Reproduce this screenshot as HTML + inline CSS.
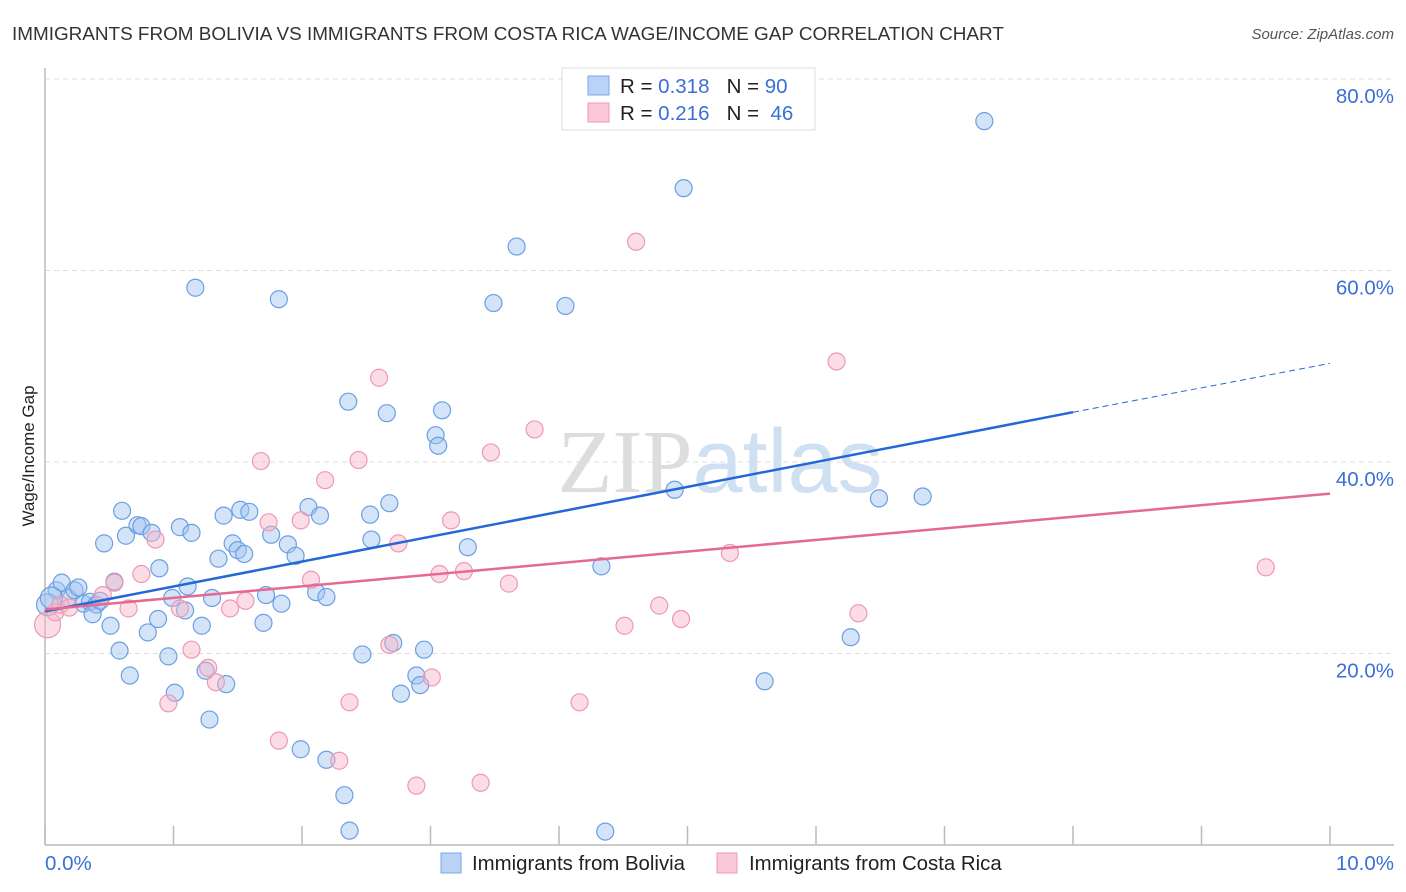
<!DOCTYPE html>
<html><head><meta charset="utf-8"><style>
body{margin:0;background:#fff;font-family:"Liberation Sans",sans-serif;}
svg{display:block}
</style></head><body>
<svg id="chart" width="1406" height="892">
<text x="12" y="40" font-size="18.9" fill="#333">IMMIGRANTS FROM BOLIVIA VS IMMIGRANTS FROM COSTA RICA WAGE/INCOME GAP CORRELATION CHART</text>
<text x="1394" y="39" font-size="15" fill="#555" text-anchor="end" font-style="italic">Source: ZipAtlas.com</text>
<text x="720" y="492" font-size="90" fill="#ddd" text-anchor="middle" font-family="Liberation Serif">ZIP<tspan fill="#cfe0f2" font-family="Liberation Sans">atlas</tspan></text>
<g id="grid"></g><g id="axes"></g><g id="pts"></g><g id="trends"></g>
<text transform="translate(34,456) rotate(-90)" font-size="17" fill="#222" text-anchor="middle">Wage/Income Gap</text>
<text x="45" y="870" font-size="20.5" fill="#3a6fd8">0.0%</text>
<text x="1394" y="870" font-size="20.5" fill="#3a6fd8" text-anchor="end">10.0%</text>
<g>
<rect x="562" y="68" width="253" height="62" fill="#fff" stroke="#ddd"/>
<rect x="588" y="76" width="21" height="19" fill="#b8d3f5" stroke="#7aa7e6"/>
<rect x="588" y="103" width="21" height="19" fill="#fac8d8" stroke="#ee98b5"/>
<text x="620" y="93" font-size="20.5" fill="#222">R = <tspan fill="#3a6fd8">0.318</tspan>&#160;&#160;&#160;N = <tspan fill="#3a6fd8">90</tspan></text>
<text x="620" y="120" font-size="20.5" fill="#222">R = <tspan fill="#3a6fd8">0.216</tspan>&#160;&#160;&#160;N = &#160;<tspan fill="#3a6fd8">46</tspan></text>
</g>
<g>
<rect x="441" y="853" width="20" height="20" fill="#b8d3f5" stroke="#7aa7e6"/>
<text x="472" y="870" font-size="20.4" fill="#222">Immigrants from Bolivia</text>
<rect x="717" y="853" width="20" height="20" fill="#fac8d8" stroke="#ee98b5"/>
<text x="749" y="870" font-size="20.4" fill="#222">Immigrants from Costa Rica</text>
</g>
</svg>
<script>
const yTicks=[20,40,60,80];
const yTickLabels=["20.0%","40.0%","60.0%","80.0%"];
const xTicks=[0,1,2,3,4,5,6,7,8,9,10];
const boliviaX=[0.09,0.13,0.18,0.23,0.26,0.30,0.35,0.40,0.37,0.43,0.46,0.51,0.54,0.58,0.60,0.63,0.66,0.72,0.75,0.80,0.83,0.88,0.89,0.96,0.99,1.01,1.05,1.09,1.11,1.14,1.17,1.22,1.25,1.28,1.30,1.35,1.39,1.41,1.46,1.50,1.52,1.55,1.59,1.70,1.72,1.76,1.82,1.84,1.89,1.95,1.99,2.05,2.11,2.14,2.19,2.19,2.33,2.36,2.37,2.47,2.53,2.54,2.66,2.68,2.71,2.77,2.89,2.92,2.95,3.04,3.06,3.09,3.29,3.49,3.67,4.05,4.33,4.36,4.90,4.97,5.60,6.27,6.49,6.83,7.31,0.02,0.05];
const boliviaY=[26.6,27.4,25.8,26.6,26.9,25.2,25.4,25.1,24.1,25.5,31.5,22.9,27.5,20.3,34.9,32.3,17.7,33.4,33.3,22.2,32.6,23.6,28.9,19.7,25.8,15.9,33.2,24.5,27.0,32.6,58.2,22.9,18.2,13.1,25.8,29.9,34.4,16.8,31.5,30.8,35.0,30.4,34.8,23.2,26.1,32.4,57.0,25.2,31.4,30.2,10.0,35.3,26.4,34.4,8.9,25.9,5.2,46.3,1.5,19.9,34.5,31.9,45.1,35.7,21.1,15.8,17.7,16.7,20.4,42.8,41.7,45.4,31.1,56.6,62.5,56.3,29.1,1.4,37.1,68.6,17.1,21.7,36.2,36.4,75.6,25.1,25.8];
const costaX=[0.02,0.08,0.12,0.19,0.45,0.54,0.65,0.75,0.86,0.96,1.05,1.14,1.27,1.33,1.44,1.56,1.68,1.74,1.82,1.99,2.07,2.18,2.29,2.37,2.44,2.6,2.68,2.75,2.89,3.01,3.07,3.16,3.26,3.39,3.47,3.61,3.81,4.16,4.51,4.6,4.78,4.95,5.33,6.16,6.33,9.5];
const costaY=[23.0,24.3,25.1,24.8,26.1,27.4,24.7,28.3,31.9,14.8,24.7,20.4,18.5,17.0,24.7,25.5,40.1,33.7,10.9,33.9,27.7,38.1,8.8,14.9,40.2,48.8,20.9,31.5,6.2,17.5,28.3,33.9,28.6,6.5,41.0,27.3,43.4,14.9,22.9,63.0,25.0,23.6,30.5,50.5,24.2,29.0];
const boliviaTrend=[[0,24.4],[8,45.2],[10,50.3]];
const costaTrend=[[0,24.6],[10,36.7]];
const X=v=>45+v*128.5, Y=v=>845-v*9.575;
const NS="http://www.w3.org/2000/svg";
function mk(tag,attrs,parent){const e=document.createElementNS(NS,tag);for(const k in attrs)e.setAttribute(k,attrs[k]);parent.appendChild(e);return e;}
const grid=document.getElementById('grid'),axes=document.getElementById('axes'),pts=document.getElementById('pts'),tr=document.getElementById('trends');
yTicks.forEach((t,i)=>{
 const l=mk('line',{x1:45,x2:1394,y1:Y(t),y2:Y(t),stroke:'#ddd','stroke-dasharray':'5,4'},grid);
 
 
 const tx=mk('text',{x:1394,y:Y(t)+24,'font-size':20.5,fill:'#3a6fd8','text-anchor':'end'},grid);
 tx.textContent=yTickLabels[i];
 
 
});
const ax=mk('line',{x1:45,x2:1394,y1:845,y2:845,stroke:'#bbb','stroke-width':1.5},axes);


const ay=mk('line',{x1:45,x2:45,y1:68,y2:845,stroke:'#bbb','stroke-width':1.5},axes);


xTicks.forEach(t=>{const l=mk('line',{x1:X(t),x2:X(t),y1:826,y2:845,stroke:'#bbb','stroke-width':1.5},axes);
 
 });
boliviaX.forEach((x,i)=>{const c=mk('circle',{cx:X(x),cy:Y(boliviaY[i]),r:(i>=85?11:8.5),fill:'rgba(160,195,240,0.45)',stroke:'#6b9fe3','stroke-width':1.2},pts);
 
 });
costaX.forEach((x,i)=>{const c=mk('circle',{cx:X(x),cy:Y(costaY[i]),r:(i==0?13:8.5),fill:'rgba(248,180,200,0.45)',stroke:'#ee98b5','stroke-width':1.2},pts);
 
 });
const b1=mk('line',{x1:X(boliviaTrend[0][0]),y1:Y(boliviaTrend[0][1]),x2:X(boliviaTrend[1][0]),y2:Y(boliviaTrend[1][1]),stroke:'#2468d6','stroke-width':2.5},tr);


const b2=mk('line',{x1:X(boliviaTrend[1][0]),y1:Y(boliviaTrend[1][1]),x2:X(boliviaTrend[2][0]),y2:Y(boliviaTrend[2][1]),stroke:'#2468d6','stroke-width':1,'stroke-dasharray':'6,4'},tr);


const p1=mk('line',{x1:X(costaTrend[0][0]),y1:Y(costaTrend[0][1]),x2:X(costaTrend[1][0]),y2:Y(costaTrend[1][1]),stroke:'#e56a93','stroke-width':2.5},tr);


</script>
</body></html>
